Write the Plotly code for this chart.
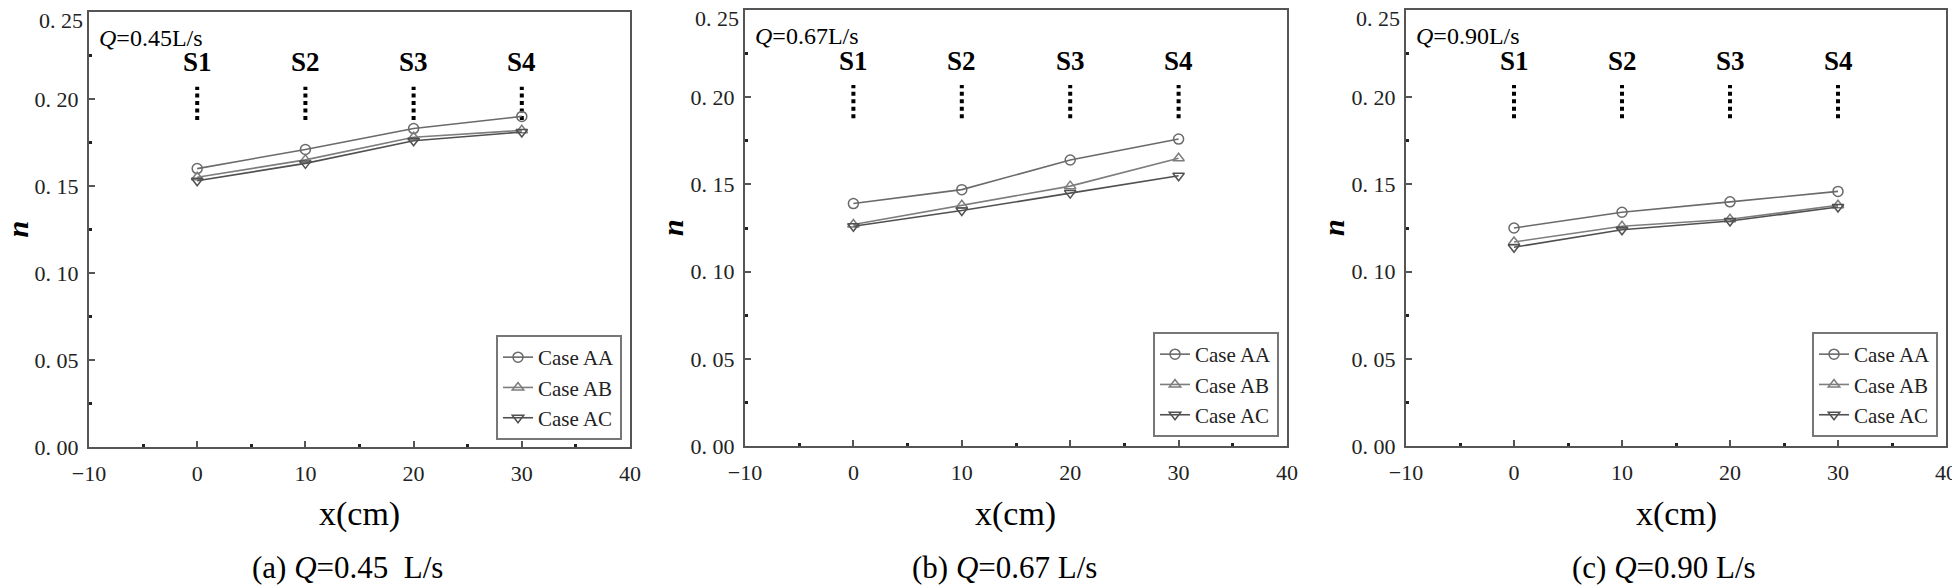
import plotly.graph_objects as go

# ---- data ----
x_cm = [0, 10, 20, 30]
stations = ["S1", "S2", "S3", "S4"]

case_names = ["Case AA", "Case AB", "Case AC"]

n_q045_aa = [0.160, 0.171, 0.183, 0.190]
n_q045_ab = [0.155, 0.165, 0.178, 0.182]
n_q045_ac = [0.153, 0.163, 0.176, 0.181]

n_q067_aa = [0.139, 0.147, 0.164, 0.176]
n_q067_ab = [0.127, 0.138, 0.149, 0.165]
n_q067_ac = [0.126, 0.135, 0.145, 0.155]

n_q090_aa = [0.125, 0.134, 0.140, 0.146]
n_q090_ab = [0.117, 0.126, 0.130, 0.138]
n_q090_ac = [0.114, 0.124, 0.129, 0.137]

flow_labels = ["0.45", "0.67", "0.90"]
panel_letters = ["a", "b", "c"]
caption_gap = ["  ", " ", " "]

y_ticks = [0.00, 0.05, 0.10, 0.15, 0.20, 0.25]
y_ticktext = ["0. 00", "0. 05", "0. 10", "0. 15", "0. 20", ""]
y_top_label = "0. 25"
x_ticks = [-10, 0, 10, 20, 30, 40]
x_ticktext = ["\u221210", "0", "10", "20", "30", "40"]

panels = [
    [n_q045_aa, n_q045_ab, n_q045_ac],
    [n_q067_aa, n_q067_ab, n_q067_ac],
    [n_q090_aa, n_q090_ab, n_q090_ac],
]

# ---- styling ----
W, H = 1960, 588
OFF = 8  # page body margin pushes the plot div by this much
FONT = "Liberation Serif, Times New Roman, serif"
symbols = ["circle-open", "triangle-up-open", "triangle-down-open"]
line_cols = ["#6a6a6a", "#7d7d7d", "#505050"]
axis_col = "#555555"

# page-pixel boxes of the three plot frames (left, right, top, bottom)
boxes = [(89, 630, 12, 447), (745, 1287, 10, 446), (1406, 1946, 10, 446)]
legend_boxes = [(622, 335), (1279, 332), (1938, 332)]


def px(v):
    return (v - OFF) / W


def py(v):
    return 1 - (v - OFF) / H


LABEL_Y = 0.221
DOT_TOP, DOT_BOT = 0.207, 0.188
Q_LABEL_Y = 0.235

fig = go.Figure()
annotations = []

for i, series in enumerate(panels):
    xa = "x" if i == 0 else f"x{i+1}"
    ya = "y" if i == 0 else f"y{i+1}"
    leg = "legend" if i == 0 else f"legend{i+1}"

    # station marker dotted lines
    for sx in x_cm:
        fig.add_trace(go.Scatter(
            x=[sx, sx], y=[DOT_BOT, DOT_TOP], mode="lines",
            line=dict(color="black", width=4, dash="4px,3.5px"),
            xaxis=xa, yaxis=ya, showlegend=False, hoverinfo="skip"))

    for k, vals in enumerate(series):
        fig.add_trace(go.Scatter(
            x=x_cm, y=vals, mode="lines+markers", name=case_names[k],
            line=dict(color=line_cols[k], width=1.6),
            marker=dict(symbol=symbols[k], size=10, color=line_cols[k],
                        line=dict(width=1.5, color=line_cols[k])),
            xaxis=xa, yaxis=ya, legend=leg))

    l, r, t, b = boxes[i]
    axis_common = dict(showline=True, linecolor=axis_col, linewidth=2, mirror=True,
                       showgrid=False, zeroline=False, ticks="inside", ticklen=6,
                       tickwidth=1.5, tickcolor=axis_col, automargin=False,
                       ticklabeloverflow="allow",
                       tickfont=dict(family=FONT, size=22, color="#222"))
    fig.layout[f"xaxis{'' if i == 0 else i+1}"] = dict(
        axis_common, domain=[px(l), px(r)], range=[-10, 40], anchor=ya,
        tickmode="array", tickvals=x_ticks, ticktext=x_ticktext,
        ticklabelstandoff=6,
        minor=dict(tickvals=[-5, 5, 15, 25, 35], ticks="inside", ticklen=3,
                   tickwidth=3, tickcolor="#222"))
    fig.layout[f"yaxis{'' if i == 0 else i+1}"] = dict(
        axis_common, domain=[py(b), py(t)], range=[0, 0.25], anchor=xa,
        tickmode="array", tickvals=y_ticks, ticktext=y_ticktext,
        ticklabelstandoff=4,
        minor=dict(tickvals=[0.025, 0.075, 0.125, 0.175, 0.225], ticks="inside",
                   ticklen=3, tickwidth=3, tickcolor="#222"))

    # top tick label, nudged down so it stays inside the page
    annotations.append(dict(
        x=px(l - 4), y=py(t + 8), xref="paper", yref="paper", text=y_top_label,
        xanchor="right", yanchor="middle", showarrow=False,
        font=dict(family=FONT, size=22, color="#222")))

    lx, ly = legend_boxes[i]
    fig.layout[leg] = dict(
        x=px(lx), y=py(ly), xanchor="right", yanchor="top",
        bgcolor="white", bordercolor="#777", borderwidth=2,
        font=dict(family=FONT, size=21, color="#222"),
        tracegroupgap=0, itemwidth=30)

    # station labels
    for sx, s in zip(x_cm, stations):
        annotations.append(dict(
            x=sx, y=LABEL_Y, xref=xa, yref=ya, text=f"<b>{s}</b>",
            xanchor="center", yanchor="middle",
            showarrow=False, font=dict(family=FONT, size=27, color="black")))

    # flow label in the corner
    annotations.append(dict(
        x=-9.25, y=Q_LABEL_Y, xref=xa, yref=ya, xanchor="left", yanchor="middle",
        text="<i>Q</i>=" + flow_labels[i] + "L/s", showarrow=False,
        font=dict(family=FONT, size=24, color="black")))

    cx = (l + r) / 2
    annotations.append(dict(
        x=px(cx), y=py(514), xref="paper", yref="paper", text="x(cm)",
        xanchor="center", yanchor="middle",
        showarrow=False, font=dict(family=FONT, size=34, color="black")))
    annotations.append(dict(
        x=px(cx - 12), y=py(567), xref="paper", yref="paper",
        text=f"({panel_letters[i]}) <i>Q</i>={flow_labels[i]}{caption_gap[i]}L/s",
        xanchor="center", yanchor="middle",
        showarrow=False, font=dict(family=FONT, size=31, color="black")))
    annotations.append(dict(
        x=px(l - 72), y=py((t + b) / 2), xref="paper", yref="paper",
        text="<b><i>n</i></b>", textangle=-90, xanchor="center", yanchor="middle",
        showarrow=False, font=dict(family=FONT, size=30, color="black")))

fig.update_layout(
    width=W, height=H,
    margin=dict(l=0, r=0, t=0, b=0, autoexpand=False),
    paper_bgcolor="white", plot_bgcolor="white",
    annotations=annotations,
    font=dict(family=FONT),
)

fig.write_html("out.html")
